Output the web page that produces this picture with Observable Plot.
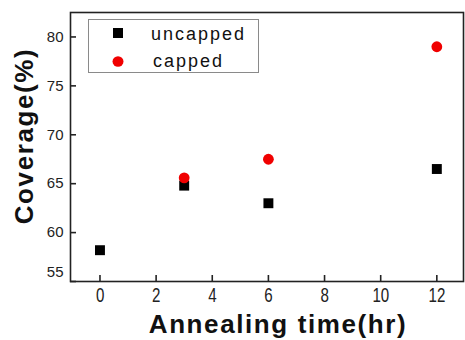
<!DOCTYPE html>
<html>
<head>
<meta charset="utf-8">
<script src="https://cdn.jsdelivr.net/npm/d3@7"></script>
<script src="https://cdn.jsdelivr.net/npm/@observablehq/plot@0.6"></script>
<style>
  html, body { margin: 0; padding: 0; background: #fff; }
  #wrap { position: relative; width: 465px; height: 340px; }
  #legend { position: absolute; left: 88px; top: 19px; }
</style>
</head>
<body>
<div id="wrap"></div>
<script>
// ---- data ----
const seriesNames = ["uncapped", "capped"];
const uncappedTime = [0, 3, 6, 12];
const uncappedCoverage = [58.2, 64.8, 63.0, 66.5];
const cappedTime = [3, 6, 12];
const cappedCoverage = [65.6, 67.5, 79.0];
const xTicks = [0, 2, 4, 6, 8, 10, 12];
const yTicks = [55, 60, 65, 70, 75, 80];
const xTitle = "Annealing time(hr)";
const yTitle = "Coverage(%)";

const uncapped = uncappedTime.map((t, i) => ({t, v: uncappedCoverage[i]}));
const capped = cappedTime.map((t, i) => ({t, v: cappedCoverage[i]}));

const seriesColor = {uncapped: "#000000", capped: "#f00000"};
const fontMain = "Liberation Sans, Arial, Helvetica, sans-serif";

const chart = Plot.plot({
  width: 465,
  height: 340,
  marginLeft: 70,
  marginTop: 12,
  marginRight: 2,
  marginBottom: 59,
  style: {background: "#fff", fontFamily: fontMain, color: "#222"},
  x: {domain: [-1.05, 12.95]},
  y: {domain: [55, 82.5]},
  marks: [
    Plot.frame({stroke: "#222", strokeWidth: 1.6}),
    // inward tick marks
    Plot.axisX({ticks: xTicks, tickSize: -6, tickFormat: () => "", label: null, stroke: "#222", strokeWidth: 1.6}),
    Plot.axisY({ticks: yTicks, tickSize: -6, tickFormat: () => "", label: null, stroke: "#222", strokeWidth: 1.6}),
    // tick labels
    Plot.text(xTicks, {x: d => d, text: d => String(d), frameAnchor: "bottom", textAnchor: "middle", lineAnchor: "middle", dy: 14, fontSize: 21, fill: "#222"}),
    Plot.axisY({ticks: yTicks.filter(d => d !== 55), tickSize: 0, tickPadding: 7, label: null, fontSize: 15, fill: "#222"}),
    Plot.axisY({ticks: yTicks.filter(d => d === 55), tickSize: 0, tickPadding: 7, label: null, fontSize: 15, fill: "#222", dy: -9}),
    // axis titles
    Plot.text([xTitle], {text: d => d, frameAnchor: "bottom", textAnchor: "middle", lineAnchor: "middle", dx: 11, dy: 43, fontSize: 26, fontWeight: "bold", fill: "#111"}),
    Plot.text([yTitle], {text: d => d, frameAnchor: "left", textAnchor: "middle", lineAnchor: "middle", rotate: -90, dx: -46, dy: -11, fontSize: 26, fontWeight: "bold", fill: "#111"}),
    // data
    Plot.dot(uncapped, {x: "t", y: "v", symbol: "square", r: 5.6, fill: seriesColor.uncapped, stroke: "none"}),
    Plot.dot(capped, {x: "t", y: "v", symbol: "circle", r: 5.4, fill: seriesColor.capped, stroke: "none"})
  ]
});

const wrap = document.getElementById("wrap");
wrap.appendChild(chart);

// post-styling: condensed x tick labels, spaced axis titles
const svgRect = chart.getBoundingClientRect();
const xTickStrings = new Set(xTicks.map(String));
chart.querySelectorAll("text").forEach(t => {
  const s = t.textContent;
  if (s === xTitle || s === yTitle) {
    t.style.letterSpacing = "1.6px";
    t.setAttribute("letter-spacing", "1.6");
    return;
  }
  if (xTickStrings.has(s)) {
    const r = t.getBoundingClientRect();
    if (r.top - svgRect.top > 281) {
      const cx = (r.left + r.right) / 2 - svgRect.left;
      const tr = t.getAttribute("transform") || "";
      t.setAttribute("transform", `translate(${cx},0) scale(0.72,1) translate(${-cx},0) ${tr}`);
    }
  }
});

// legend overlay (inside plot area, top-left)
const ns = "http://www.w3.org/2000/svg";
const leg = document.createElementNS(ns, "svg");
leg.setAttribute("id", "legend");
leg.setAttribute("width", 171);
leg.setAttribute("height", 54);
const box = document.createElementNS(ns, "rect");
box.setAttribute("x", 0.5); box.setAttribute("y", 0.5);
box.setAttribute("width", 170); box.setAttribute("height", 53);
box.setAttribute("fill", "#fff"); box.setAttribute("stroke", "#8a8a8a"); box.setAttribute("stroke-width", 1);
leg.appendChild(box);
seriesNames.forEach((name, i) => {
  const cy = i === 0 ? 14 : 42.5;
  if (name === "uncapped") {
    const s = document.createElementNS(ns, "rect");
    s.setAttribute("x", 25); s.setAttribute("y", cy - 5);
    s.setAttribute("width", 10); s.setAttribute("height", 10);
    s.setAttribute("fill", seriesColor[name]);
    leg.appendChild(s);
  } else {
    const c = document.createElementNS(ns, "ellipse");
    c.setAttribute("cx", 30); c.setAttribute("cy", cy);
    c.setAttribute("rx", 5.5); c.setAttribute("ry", 5.2);
    c.setAttribute("fill", seriesColor[name]);
    leg.appendChild(c);
  }
  const t = document.createElementNS(ns, "text");
  t.setAttribute("x", i === 0 ? 63 : 65);
  t.setAttribute("y", i === 0 ? 21 : 48);
  t.setAttribute("font-family", fontMain);
  t.setAttribute("font-size", 18);
  t.setAttribute("letter-spacing", 2);
  t.setAttribute("fill", "#111");
  t.textContent = name;
  leg.appendChild(t);
});
wrap.appendChild(leg);
</script>
</body>
</html>
